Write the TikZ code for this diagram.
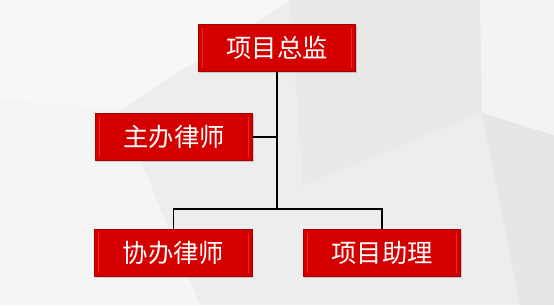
\documentclass[tikz,border=0pt]{standalone}
\usepackage{fontspec}
\newfontfamily\cjk{Noto Sans CJK SC}
\usetikzlibrary{shadows}
\definecolor{boxred}{RGB}{212,0,0}
\definecolor{boxedge}{RGB}{165,0,0}
\definecolor{boxlight}{RGB}{236,40,40}
\definecolor{bgA}{RGB}{237,237,237}
\begin{document}
\begin{tikzpicture}[x=0.75pt,y=-0.75pt,
  rolebox/.style={rectangle, fill=boxred, draw=boxedge, line width=0.6pt,
    minimum width=118pt, minimum height=35.5pt, inner sep=0pt,
    text=white, font=\cjk\fontsize{19}{21}\selectfont,
    drop shadow={opacity=0.35, shadow xshift=0.8pt, shadow yshift=-1.2pt},
    path picture={
      \draw[boxlight, line width=0.9pt]
        ([xshift=3pt,yshift=-3pt]path picture bounding box.north west) --
        ([xshift=3pt,yshift=3pt]path picture bounding box.south west);
      \draw[boxlight, line width=0.9pt]
        ([xshift=-3pt,yshift=-3pt]path picture bounding box.north east) --
        ([xshift=-3pt,yshift=3pt]path picture bounding box.south east);
    }},
  link/.style={draw=black, line width=1.4pt}]
% background
\fill[bgA] (0,0) rectangle (554,305);
\fill[white!55!bgA] (0,0) -- (290,0) -- (120,110) -- (0,100) -- cycle;
\fill[white!40!bgA] (0,100) -- (120,110) -- (30,230) -- (0,305) -- cycle;
\fill[black!2!bgA] (290,0) -- (480,0) -- (482,113) -- (303,185) -- cycle;
\fill[black!3!bgA] (482,113) -- (554,135) -- (554,305) -- (520,305) -- cycle;
\fill[white!35!bgA] (480,0) -- (554,0) -- (554,135) -- (482,113) -- cycle;
\fill[white!45!bgA] (30,230) -- (120,110) -- (200,305) -- (0,305) -- cycle;
\useasboundingbox (0,0) rectangle (554,305);
% nodes
\node[rolebox] (top) at (277,48) {项目总监};
\node[rolebox] (zb) at (174,137) {主办律师};
\node[rolebox] (xb) at (173.5,253) {协办律师};
\node[rolebox] (zl) at (382,253) {项目助理};
\coordinate (j) at (277,209);
% connectors
\draw[link] (top.south) -- (j);
\draw[link] (zb.east) -- (zb.east -| j);
\draw[link] (xb.north) |- (j) -| (zl.north);
\end{tikzpicture}
\end{document}
